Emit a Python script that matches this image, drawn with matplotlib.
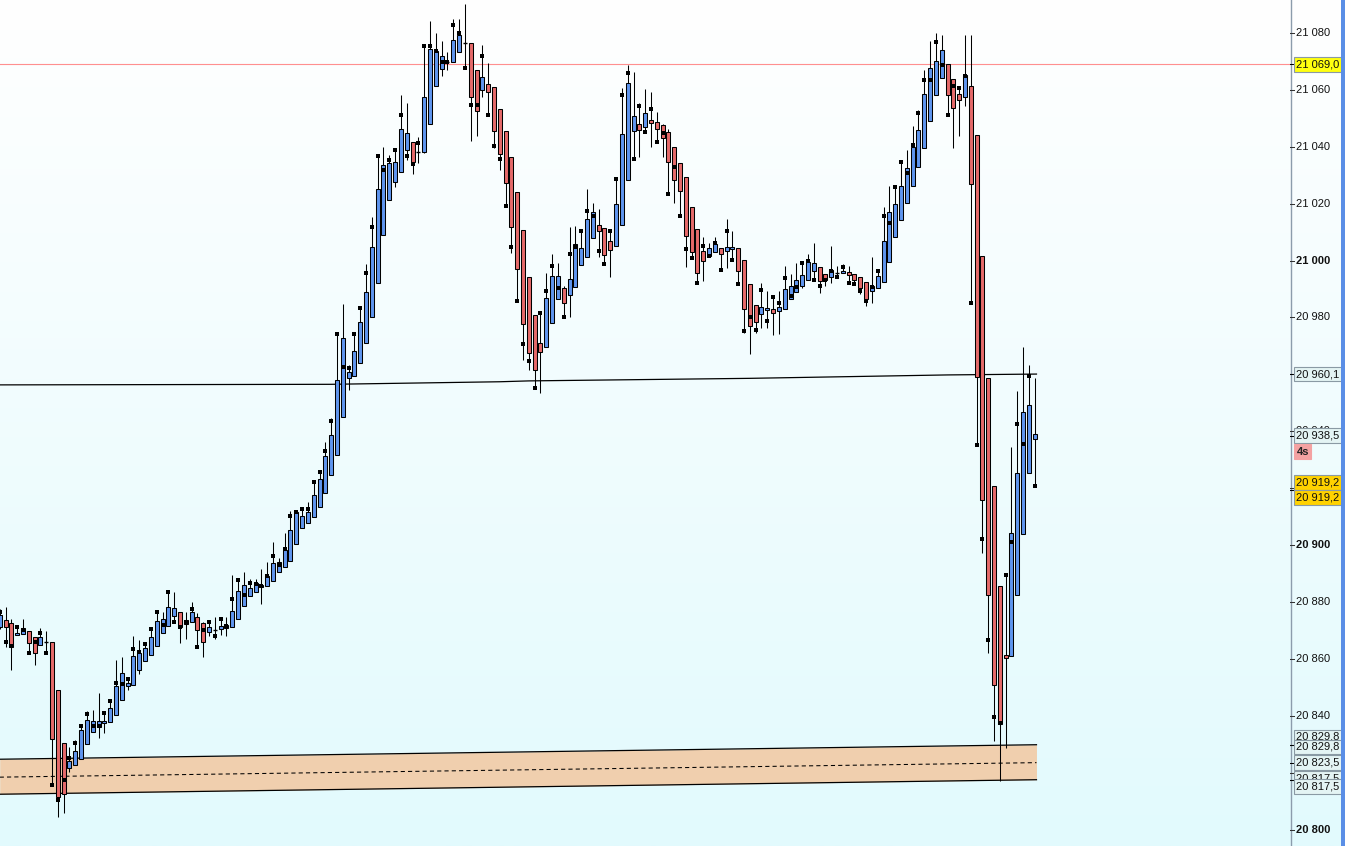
import matplotlib
matplotlib.use("Agg")
import matplotlib.pyplot as plt
from matplotlib.patches import Rectangle
import numpy as np

# candle data (index = bar number, left to right)
opens = [20871.2, 20873.7, 20872.5, 20868.3, 20868.6, 20869.7, 20867.6, 20864.8, 20866.0, 20866.0,
         20849.0, 20830.4, 20821.5, 20822.6, 20824.8, 20830.0, 20834.2, 20836.2, 20837.4, 20837.7,
         20840.2, 20845.4, 20850.4, 20850.7, 20856.0, 20859.1, 20861.3, 20864.4, 20869.0, 20871.4,
         20875.0, 20876.4, 20873.7, 20872.8, 20874.6, 20872.5, 20869.3, 20870.3, 20870.4, 20870.7,
         20871.1, 20873.9, 20878.7, 20882.2, 20883.6, 20885.2, 20885.5, 20887.2, 20890.4, 20892.2,
         20894.4, 20900.3, 20905.9, 20907.9, 20909.8, 20913.5, 20918.2, 20924.7, 20931.8, 20944.9,
         20958.6, 20959.5, 20963.9, 20970.9, 20980.1, 20992.2, 21008.9, 21021.2, 21027.7, 21031.0,
         21038.8, 21041.6, 21038.3, 21038.3, 21047.9, 21061.3, 21067.5, 21069.8, 21069.7, 21073.4,
         21076.4, 21076.4, 21066.9, 21059.8, 21062.0, 21060.9, 21053.2, 21045.4, 21036.3, 21024.0,
         21010.8, 20994.2, 20980.8, 20970.9, 20969.5, 20978.0, 20986.4, 20990.3, 20987.8, 20990.6,
         20998.4, 21001.2, 21007.8, 21012.4, 21011.4, 21006.8, 21005.0, 21012.4, 21028.2, 21045.4,
         21047.9, 21046.9, 21049.3, 21048.6, 21047.6, 21045.1, 21039.8, 21034.2, 21029.3, 21018.7,
         21011.0, 21003.3, 21001.5, 21002.9, 21004.3, 21003.3, 21004.0, 21004.3, 21000.1, 20991.7,
         20984.3, 20981.1, 20982.5, 20982.9, 20982.2, 20982.9, 20986.4, 20988.9, 20991.0, 20993.1,
         20996.2, 20997.6, 20995.2, 20994.1, 20995.5, 20995.5, 20995.9, 20995.2, 20994.1, 20992.4,
         20989.2, 20990.3, 20992.4, 20999.4, 21008.2, 21014.2, 21020.1, 21026.1, 21032.8, 21039.5,
         21049.0, 21058.1, 21064.1, 21069.0, 21063.7, 21058.5, 21057.4, 21061.3, 21044.0, 21001.5,
         20958.6, 20920.7, 20885.5, 20861.3, 20860.9, 20882.3, 20903.8, 20925.2, 20937.2]
highs = [20877.5, 20878.2, 20874.0, 20871.3, 20873.9, 20869.7, 20867.6, 20870.8, 20869.9, 20866.0,
         20849.0, 20830.4, 20829.1, 20831.5, 20836.5, 20841.7, 20842.0, 20847.9, 20841.4, 20845.2,
         20859.6, 20860.5, 20853.4, 20868.0, 20866.6, 20865.9, 20870.5, 20876.4, 20876.4, 20883.4,
         20883.4, 20876.4, 20876.4, 20879.9, 20876.0, 20872.8, 20872.8, 20874.6, 20874.6, 20874.6,
         20889.5, 20887.6, 20890.4, 20888.0, 20888.0, 20891.5, 20894.2, 20901.1, 20895.5, 20904.3,
         20912.0, 20911.5, 20912.6, 20915.0, 20922.1, 20925.6, 20936.2, 20944.7, 20974.1, 20984.8,
         20963.3, 20974.1, 20983.8, 20998.7, 21015.3, 21036.8, 21039.9, 21037.1, 21038.8, 21058.2,
         21055.4, 21041.6, 21043.4, 21075.3, 21084.1, 21080.0, 21077.1, 21073.2, 21084.9, 21084.9,
         21090.2, 21076.4, 21066.9, 21075.7, 21069.5, 21060.9, 21053.2, 21045.4, 21036.3, 21024.0,
         21010.8, 20994.2, 20980.8, 20981.5, 20995.5, 21002.3, 20999.1, 20991.0, 21011.8, 21012.1,
         21010.3, 21025.1, 21020.1, 21018.0, 21011.4, 21010.3, 21028.6, 21060.6, 21068.8, 21066.2,
         21055.3, 21060.2, 21059.2, 21052.1, 21048.0, 21046.3, 21039.8, 21034.2, 21029.3, 21018.7,
         21011.0, 21008.2, 21006.1, 21008.2, 21004.3, 21014.5, 21010.3, 21004.3, 21000.1, 20991.7,
         20984.3, 20992.0, 20989.2, 20987.1, 20989.2, 20998.1, 20995.2, 20999.0, 20999.7, 21002.2,
         21006.1, 20997.6, 20995.2, 21005.0, 20998.0, 20998.7, 20998.0, 20995.2, 20994.1, 20992.4,
         21001.2, 20996.2, 21018.7, 21026.2, 21025.8, 21035.4, 21038.9, 21047.3, 21052.9, 21067.0,
         21077.2, 21080.0, 21079.3, 21069.0, 21063.7, 21060.6, 21079.3, 21079.3, 21044.0, 21001.5,
         20958.6, 20920.7, 20885.5, 20889.4, 20934.5, 20954.1, 20969.5, 20963.2, 20958.6]
lows = [20870.5, 20864.2, 20855.9, 20868.3, 20868.6, 20861.7, 20858.0, 20864.8, 20862.0, 20815.6,
        20804.4, 20805.7, 20820.3, 20822.6, 20824.8, 20830.0, 20834.2, 20832.3, 20833.8, 20837.7,
        20840.2, 20845.4, 20849.1, 20850.7, 20854.6, 20859.1, 20861.3, 20864.4, 20869.0, 20871.4,
        20872.8, 20865.5, 20866.9, 20872.8, 20864.0, 20860.5, 20867.9, 20866.9, 20868.3, 20867.9,
        20871.1, 20873.9, 20878.7, 20882.2, 20883.6, 20879.4, 20885.5, 20887.2, 20890.4, 20892.2,
        20894.4, 20900.3, 20905.9, 20907.9, 20909.8, 20913.5, 20918.2, 20924.7, 20931.8, 20944.9,
        20954.5, 20959.5, 20963.9, 20970.9, 20980.1, 20992.2, 21008.9, 21021.2, 21026.0, 21031.0,
        21035.4, 21030.3, 21034.4, 21037.7, 21047.9, 21061.3, 21065.0, 21067.1, 21069.7, 21073.4,
        21068.2, 21042.1, 21043.9, 21057.6, 21051.1, 21039.6, 21031.9, 21019.1, 21002.6, 20985.7,
        20965.0, 20961.5, 20955.1, 20953.6, 20969.5, 20978.0, 20986.4, 20980.1, 20980.1, 20990.6,
        20998.4, 21001.2, 21007.8, 21001.4, 20998.7, 20994.3, 21005.0, 21012.4, 21028.2, 21035.6,
        21036.5, 21045.1, 21039.8, 21041.6, 21036.5, 21023.3, 21020.1, 21015.7, 20997.6, 21000.8,
        20992.0, 20992.7, 21001.5, 21002.9, 20996.6, 20997.3, 21000.1, 20991.7, 20974.4, 20967.0,
        20974.4, 20976.2, 20976.2, 20973.7, 20974.1, 20982.9, 20986.4, 20988.9, 20990.3, 20993.1,
        20993.1, 20988.5, 20991.0, 20992.0, 20994.1, 20995.5, 20992.0, 20991.7, 20988.2, 20983.9,
        20985.0, 20990.3, 20992.4, 20999.4, 21008.2, 21014.2, 21020.1, 21026.1, 21032.8, 21039.5,
        21049.0, 21058.1, 21064.1, 21051.1, 21039.7, 21043.9, 21054.4, 20985.0, 20935.1, 20897.3,
        20862.0, 20831.2, 20817.1, 20828.6, 20860.9, 20882.3, 20903.8, 20925.2, 20920.7]
closes = [20875.4, 20871.2, 20864.3, 20869.2, 20870.8, 20865.7, 20862.0, 20867.6, 20866.0, 20831.7,
          20811.4, 20812.6, 20824.1, 20827.6, 20835.0, 20838.5, 20838.2, 20838.2, 20838.2, 20842.6,
          20850.4, 20854.9, 20851.4, 20860.9, 20862.0, 20863.7, 20867.6, 20873.2, 20873.9, 20878.1,
          20877.8, 20871.3, 20872.2, 20876.4, 20870.0, 20865.8, 20871.1, 20870.3, 20871.4, 20871.8,
          20876.7, 20883.9, 20886.0, 20884.8, 20886.6, 20886.0, 20889.1, 20893.8, 20894.0, 20898.3,
          20905.2, 20911.5, 20910.2, 20911.5, 20917.6, 20923.2, 20931.2, 20938.6, 20958.0, 20972.7,
          20960.7, 20968.2, 20978.4, 20988.9, 21004.7, 21025.1, 21033.5, 21034.2, 21034.6, 21046.1,
          21044.7, 21034.6, 21038.3, 21057.4, 21074.3, 21073.8, 21071.8, 21069.8, 21077.4, 21079.2,
          21076.4, 21057.6, 21052.7, 21064.4, 21059.4, 21045.4, 21037.4, 21027.2, 21011.9, 20996.9,
          20977.6, 20967.4, 20961.4, 20967.8, 20986.7, 20994.5, 20994.5, 20985.0, 20993.4, 21005.7,
          21004.3, 21014.5, 21017.0, 21010.3, 21001.9, 21003.6, 21019.8, 21044.4, 21062.3, 21050.7,
          21045.8, 21051.8, 21048.3, 21046.2, 21043.0, 21034.5, 21028.2, 21024.4, 21008.5, 21002.9,
          20995.5, 20999.8, 21004.3, 21005.7, 21002.2, 21004.7, 21004.7, 20996.2, 20982.9, 20977.0,
          20978.3, 20983.6, 20983.2, 20981.5, 20983.6, 20989.9, 20991.0, 20993.1, 20994.8, 20999.4,
          20999.0, 20992.7, 20993.1, 20996.6, 20995.5, 20996.2, 20994.8, 20993.1, 20990.3, 20986.4,
          20991.0, 20994.5, 21006.8, 21017.0, 21019.8, 21026.1, 21032.4, 21039.8, 21045.8, 21058.5,
          21067.6, 21070.1, 21073.9, 21058.1, 21053.5, 21056.4, 21065.1, 21026.8, 20959.0, 20915.7,
          20882.3, 20850.7, 20837.1, 20860.2, 20904.1, 20925.2, 20946.7, 20949.1, 20938.9]
# small black square marks drawn on each bar
marks = [20876.5, 20865.9, 20864.5, 20871.1, 20870.2, 20862.0, 20865.8, 20869.0, 20862.0, 20815.6,
         20810.3, 20817.4, 20825.1, 20830.3, 20836.5, 20840.6, 20836.5, 20836.5, 20840.8, 20845.2,
         20851.5, 20851.0, 20852.9, 20863.4, 20862.4, 20865.2, 20870.5, 20876.4, 20871.8, 20883.4,
         20872.8, 20871.1, 20873.1, 20877.4, 20864.0, 20870.0, 20872.8, 20867.9, 20873.9, 20871.4,
         20880.9, 20887.6, 20882.5, 20886.6, 20886.2, 20885.6, 20889.1, 20896.1, 20892.9, 20898.7,
         20910.1, 20911.5, 20912.6, 20912.6, 20922.1, 20925.6, 20933.0, 20943.5, 20974.1, 20962.6,
         20962.1, 20974.1, 20983.3, 20995.5, 21011.7, 21036.8, 21031.9, 21035.4, 21038.8, 21051.1,
         21036.8, 21033.9, 21041.2, 21075.3, 21075.3, 21073.6, 21069.8, 21069.8, 21082.8, 21079.9,
         21067.6, 21054.6, 21054.6, 21071.9, 21051.1, 21040.3, 21035.6, 21019.1, 21004.7, 20985.7,
         20970.7, 20964.8, 20955.1, 20981.5, 20989.2, 20998.0, 20990.3, 20980.1, 21002.2, 21004.7,
         21010.3, 21017.3, 21015.6, 21003.3, 20998.7, 21010.3, 21028.6, 21058.1, 21065.8, 21035.6,
         21054.2, 21045.1, 21053.2, 21041.6, 21044.7, 21023.3, 21032.8, 21015.7, 21004.0, 21000.8,
         20992.0, 21005.0, 21001.5, 21006.1, 20996.6, 21010.3, 21000.1, 20991.7, 20975.1, 20980.1,
         20975.5, 20989.6, 20978.7, 20987.1, 20985.0, 20993.8, 20987.4, 20990.6, 20999.0, 20999.7,
         20993.1, 20991.0, 20993.1, 20996.2, 20994.1, 20997.6, 20992.0, 20991.7, 20989.2, 20985.7,
         20990.6, 20996.2, 21015.6, 21013.1, 21025.8, 21034.6, 21030.7, 21040.5, 21051.8, 21063.4,
         21063.4, 21076.7, 21068.6, 21051.1, 21061.3, 21060.6, 21064.8, 20985.0, 20935.1, 20902.0,
         20866.5, 20839.6, 20837.4, 20889.4, 20901.0, 20942.5, 20935.4, 20959.5, 20920.7]

# slowly rising black line and the shaded zone (bar index -> price)
line_idx = [0, 57, 86, 91, 129, 163, 178.3]
line_val = [20956.3, 20956.5, 20957.4, 20957.7, 20958.6, 20959.8, 20960.1]
zone_idx = [0, 178.3]
zone_top = [20824.7, 20829.8]
zone_mid = [20818.4, 20823.5]
zone_bot = [20812.4, 20817.5]
level_red = 21069.0

tick_vals = list(range(20800, 21081, 20))
last_price = 20938.5
order_price = 20919.2

W, H = 1345, 846
PLOT_W = 1290
fig = plt.figure(figsize=(W / 100, H / 100), dpi=100)

# background gradient, white at the top to pale cyan at the bottom
bg = fig.add_axes([0, 0, 1, 1])
t = np.linspace(0, 1, 300)[:, None, None]
top_c = np.array([255, 255, 255]) / 255
bot_c = np.array([226, 250, 253]) / 255
bg.imshow(top_c + (bot_c - top_c) * t, aspect='auto', extent=[0, 1, 0, 1])
bg.set_xlim(0, 1)
bg.set_ylim(0, 1)
bg.axis('off')

ymin, ymax = 20794.2, 21091.6
ax = fig.add_axes([0, 0, PLOT_W / W, 1])
ax.patch.set_alpha(0)
ax.set_xlim(0.05, 221.9)
ax.set_ylim(ymin, ymax)
ax.axis('off')

blue = '#5f95ee'
red = '#e56a6a'
lw1 = 0.75  # about one pixel

# zone
ax.fill_between(zone_idx, zone_bot, zone_top, color='#f0cfae', zorder=1, lw=0)
ax.plot(zone_idx, zone_top, color='black', lw=0.9, zorder=2)
ax.plot(zone_idx, zone_bot, color='black', lw=0.9, zorder=2)
ax.plot(zone_idx, zone_mid, color='black', lw=lw1, ls=(0, (4, 3)), zorder=2)

# levels
ax.axhline(level_red, color='#ff8f8f', lw=0.8, zorder=2)
ax.plot(line_idx, line_val, color='black', lw=0.9, zorder=2)

# candles
n = len(opens)
idx = np.arange(n)
ax.vlines(idx, lows, highs, color='black', lw=lw1, zorder=3)
bw = 0.69
for i in range(n):
    o, c = opens[i], closes[i]
    if abs(c - o) < 0.3:
        ax.hlines(o, i - bw / 2, i + bw / 2, color='black', lw=1.0, zorder=4)
        continue
    col = blue if c > o else red
    ax.bar(i, abs(c - o), bottom=min(o, c), width=bw, color=col,
           edgecolor='black', linewidth=lw1, zorder=4)
ax.plot(idx, marks, ls='none', marker='s', ms=2.7, mew=0, color='black', zorder=5)


def fmt(v, dec=True):
    if dec:
        s = f"{v:.1f}".replace('.', ',')
        ip, dp = s.split(',')
        return ip[:-3] + ' ' + ip[-3:] + ',' + dp
    s = f"{int(v)}"
    return s[:-3] + ' ' + s[-3:]


# right price scale
rax = fig.add_axes([PLOT_W / W, 0, (W - PLOT_W) / W, 1])
rax.patch.set_alpha(0)
rax.set_xlim(0, W - PLOT_W)
rax.set_ylim(ymin, ymax)
rax.axis('off')
rax.axvline(0.5, color='#8c9cac', lw=1.0)

font = 'Liberation Sans'
for v in tick_vals:
    rax.plot([0, 4], [v, v], color='#333333', lw=lw1)
    rax.text(6, v, fmt(v, False), fontsize=8, family=font, va='center', ha='left',
             fontweight='bold' if v % 100 == 0 else 'normal', color='#111111', zorder=2)

px = (ymax - ymin) / H  # price per pixel


def tag(v, text, fc, dy=0):
    rax.plot([0, 4], [v, v], color='black', lw=lw1, zorder=3)
    rax.text(6.5, v + dy * px, text, fontsize=8, family=font, va='center', ha='left',
             color='#111111', zorder=6,
             bbox=dict(boxstyle='square,pad=0.2', fc=fc, ec='#8a9aa4', lw=0.8))


tag(level_red, fmt(level_red), '#ffff10')
tag(line_val[-1], fmt(line_val[-1]), '#e4f4f4')
tag(last_price, fmt(last_price), '#e4f4f4')
rax.text(6.5, last_price - 16 * px, '4s', fontsize=8, family=font, va='center', ha='left',
         fontweight='bold', color='#222222', zorder=6,
         bbox=dict(boxstyle='square,pad=0.2', fc='#f4a2a2', ec='#f4a2a2', lw=0.8))
tag(order_price, fmt(order_price), '#ffd200', dy=8)
tag(order_price, fmt(order_price), '#ffd200', dy=-7)
tag(zone_top[-1], fmt(zone_top[-1]), '#e4f4f4', dy=8)
tag(zone_top[-1], fmt(zone_top[-1]), '#e4f4f4', dy=-2)
tag(zone_mid[-1], fmt(zone_mid[-1]), '#e4f4f4')
tag(zone_bot[-1], fmt(zone_bot[-1]), '#e4f4f4', dy=1)
tag(zone_bot[-1], fmt(zone_bot[-1]), '#e4f4f4', dy=-7)

# blue strip at the right edge
fig.patches.append(Rectangle((1341 / W, 0), 4 / W, 1, transform=fig.transFigure,
                             fc='#5a8ee6', ec='none', zorder=10))

fig.savefig('out.png', dpi=100)
